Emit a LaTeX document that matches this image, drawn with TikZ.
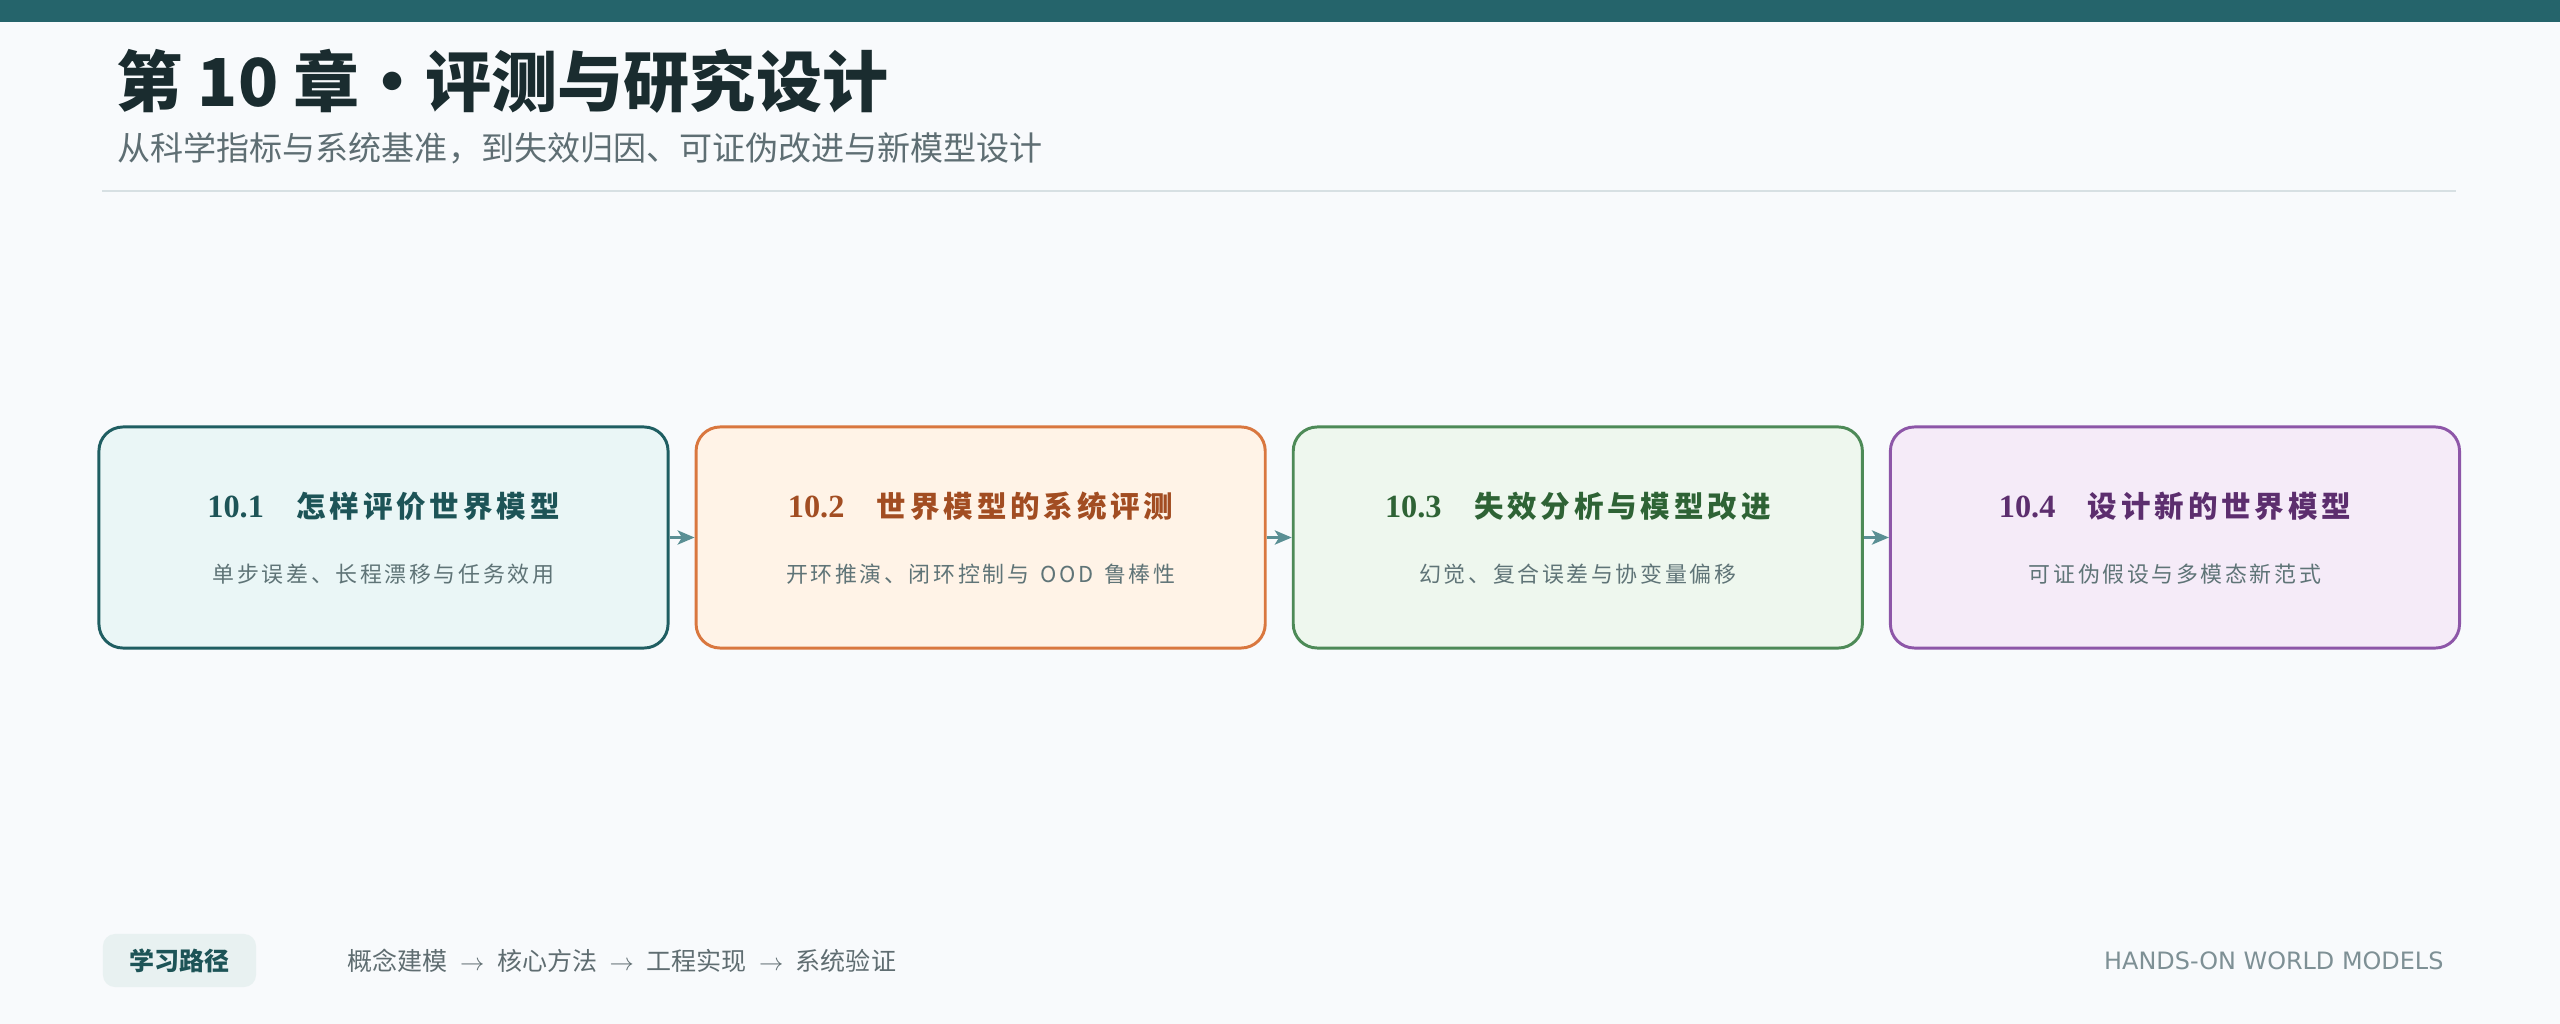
\documentclass[tikz,border=0pt]{standalone}
\usepackage{fontspec}
\usepackage[dvipsnames]{xcolor}
\usetikzlibrary{arrows.meta}
\setmainfont{Noto Sans CJK SC}
\newfontfamily\subfont[LetterSpace=12]{Noto Sans CJK SC}
\newfontfamily\headfont[LetterSpace=13]{Noto Sans CJK SC}
\newfontfamily\numfont{Liberation Serif}
\newfontfamily\tagfont{DejaVu Sans}

\definecolor{pagebg}{HTML}{F8FAFC}
\definecolor{barteal}{HTML}{25646B}
\definecolor{titleink}{HTML}{1A2C2F}
\definecolor{subgray}{HTML}{5E6E73}
\definecolor{rulegray}{HTML}{D7E0E3}
\definecolor{boxsub}{HTML}{5F7477}
\definecolor{tealline}{HTML}{1F5E62}
\definecolor{tealfill}{HTML}{EAF6F6}
\definecolor{tealink}{HTML}{1D5457}
\definecolor{orangeline}{HTML}{D9773F}
\definecolor{orangefill}{HTML}{FFF3E7}
\definecolor{orangeink}{HTML}{A24D22}
\definecolor{greenline}{HTML}{4D8A57}
\definecolor{greenfill}{HTML}{EEF7EE}
\definecolor{greenink}{HTML}{2E6335}
\definecolor{purpleline}{HTML}{8D56A8}
\definecolor{purplefill}{HTML}{F5EBF8}
\definecolor{purpleink}{HTML}{5C2E6E}
\definecolor{arrowteal}{HTML}{5A8F94}
\definecolor{pillfill}{HTML}{E8F1F1}
\definecolor{pathgray}{HTML}{5F6D71}
\definecolor{taggray}{HTML}{7E9095}

\newcommand{\pathsep}{\hspace{0.5em}$\rightarrow$\hspace{0.5em}}

\begin{document}
\begin{tikzpicture}[x=0.025cm,y=-0.025cm,->,>={Stealth[length=12pt,width=10pt,inset=3pt]},auto,node distance=14.925cm,thick,
    sect/.style={rectangle,rounded corners=0.6cm,line width=2.1pt,minimum width=14.225cm,minimum height=5.525cm},
    head/.style={inner sep=0pt,font=\headfont\bfseries\fontsize{21pt}{25pt}\selectfont},
    sub/.style={inner sep=0pt,text=boxsub,font=\subfont\fontsize{15.6pt}{19pt}\selectfont}]

            \useasboundingbox (0,0) rectangle (2560,1024);
            \fill[pagebg] (0,0) rectangle (2560,1024);
            \fill[barteal] (0,0) rectangle (2560,22);

            \node[anchor=base west, inner sep=0pt, text=titleink, font=\bfseries\fontsize{47pt}{56pt}\selectfont] (title) at (116,107) {第 10 章·评测与研究设计};
            \node[anchor=base west, inner sep=0pt, text=subgray, font=\fontsize{23.5pt}{28pt}\selectfont] (subtitle) at (117,161) {从科学指标与系统基准，到失效归因、可证伪改进与新模型设计};
            \draw[-, rulegray, line width=2.1pt] (102,191) -- (2456,191);

            \node[sect, draw=tealline, fill=tealfill] (1) at (383.5,537.5) {};
            \node[sect, draw=orangeline, fill=orangefill] (2) [right of = 1] {};
            \node[sect, draw=greenline, fill=greenfill] (3) [right of = 2] {};
            \node[sect, draw=purpleline, fill=purplefill] (4) [right of = 3] {};

            \node[head, text=tealink] (1t) at ([yshift=0.79cm]1.center) {{\numfont\fontsize{23pt}{25pt}\selectfont 10.1}\hspace{1.1em}怎样评价世界模型};
            \node[sub] (1s) at ([yshift=-0.91cm]1.center) {单步误差、长程漂移与任务效用};
            \node[head, text=orangeink] (2t) at ([yshift=0.79cm]2.center) {{\numfont\fontsize{23pt}{25pt}\selectfont 10.2}\hspace{1.1em}世界模型的系统评测};
            \node[sub] (2s) at ([yshift=-0.91cm]2.center) {开环推演、闭环控制与\enspace OOD\enspace 鲁棒性};
            \node[head, text=greenink] (3t) at ([yshift=0.79cm]3.center) {{\numfont\fontsize{23pt}{25pt}\selectfont 10.3}\hspace{1.1em}失效分析与模型改进};
            \node[sub] (3s) at ([yshift=-0.91cm]3.center) {幻觉、复合误差与协变量偏移};
            \node[head, text=purpleink] (4t) at ([yshift=0.79cm]4.center) {{\numfont\fontsize{23pt}{25pt}\selectfont 10.4}\hspace{1.1em}设计新的世界模型};
            \node[sub] (4s) at ([yshift=-0.91cm]4.center) {可证伪假设与多模态新范式};

            \draw[arrowteal, line width=2.6pt] (1) to (2);
            \draw[arrowteal, line width=2.6pt] (2) to (3);
            \draw[arrowteal, line width=2.6pt] (3) to (4);

            \node[rounded corners=0.3cm, fill=pillfill, minimum width=3.825cm, minimum height=1.325cm, text=tealink, font=\bfseries\fontsize{17.8pt}{21pt}\selectfont] (pill) at (179.5,960.5) {学习路径};
            \node[anchor=west, inner sep=0pt, text=pathgray, font=\fontsize{17.8pt}{21pt}\selectfont] (path) at (347,961) {概念建模\pathsep 核心方法\pathsep 工程实现\pathsep 系统验证};
            \node[anchor=east, inner sep=0pt, text=taggray, font=\tagfont\fontsize{17pt}{20pt}\selectfont] (tag) at (2444,961) {HANDS-ON WORLD MODELS};

            ;
        \end{tikzpicture}
\end{document}
